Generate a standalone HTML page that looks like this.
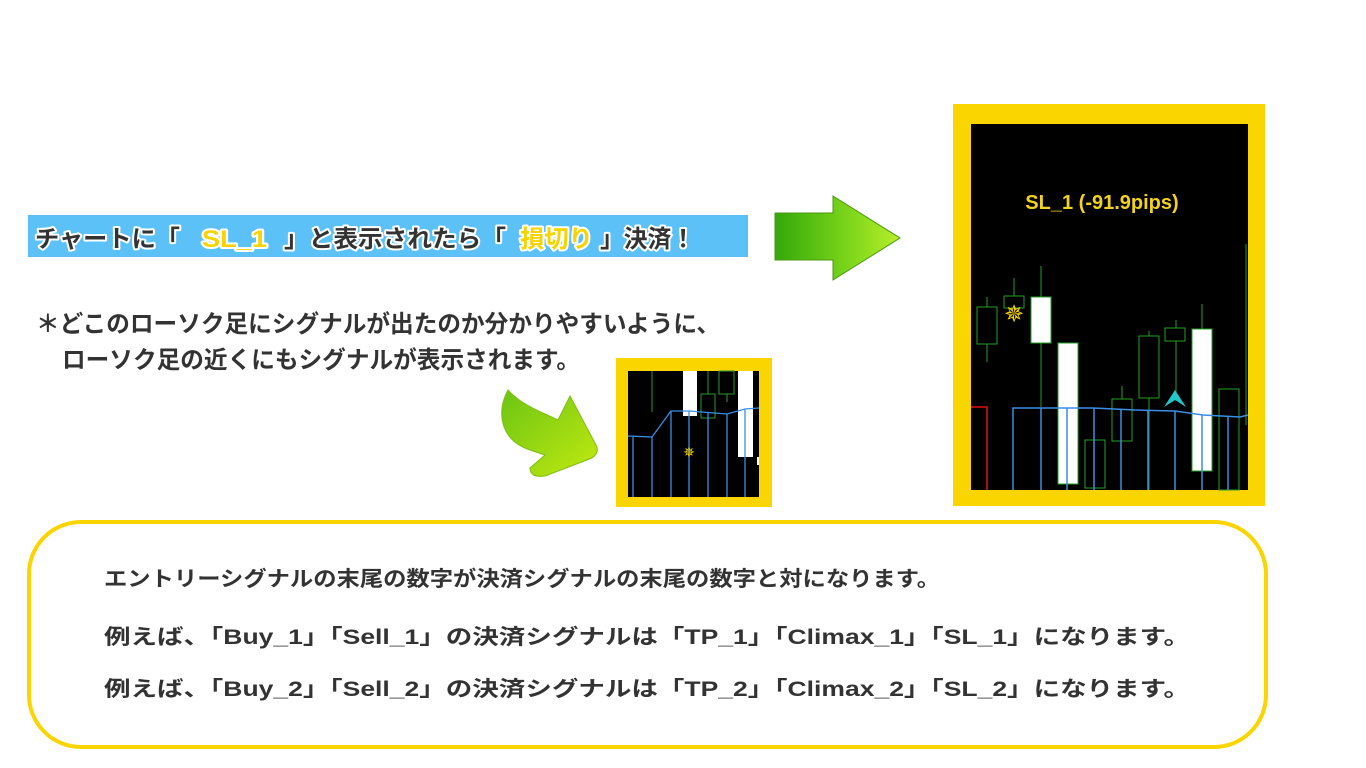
<!DOCTYPE html>
<html><head><meta charset="utf-8"><style>
html,body{margin:0;padding:0;background:#fff;width:1366px;height:768px;overflow:hidden}
svg{display:block}
.jp{font-family:"Liberation Sans","Noto Sans CJK JP",sans-serif;font-weight:bold}
</style></head><body>
<svg width="1366" height="768" viewBox="0 0 1366 768" xmlns="http://www.w3.org/2000/svg">
<defs>
<linearGradient id="ga" x1="0" y1="0" x2="1" y2="0"><stop offset="0" stop-color="#34a80a"/><stop offset="0.6" stop-color="#7ed61a"/><stop offset="1" stop-color="#b8ee2a"/></linearGradient>
<linearGradient id="gb" x1="0" y1="0" x2="1" y2="1"><stop offset="0" stop-color="#6cc414"/><stop offset="1" stop-color="#c2ea10"/></linearGradient>
</defs>
<!-- banner -->
<rect x="28" y="215" width="720" height="42" fill="#5bc1f7"/>
<g class="jp" font-size="24" stroke="#fff" stroke-width="4" paint-order="stroke" stroke-linejoin="round">
<text x="35" y="247" fill="#333" textLength="145" lengthAdjust="spacingAndGlyphs">チャートに「</text>
<text x="202" y="247" fill="#f7d400" textLength="65" lengthAdjust="spacingAndGlyphs">SL_1</text>
<text x="284" y="247" fill="#333" textLength="222" lengthAdjust="spacingAndGlyphs">」と表示されたら「</text>
<text x="520" y="247" fill="#f7d400" textLength="73" lengthAdjust="spacingAndGlyphs">損切り</text>
<text x="600" y="247" fill="#333" textLength="95" lengthAdjust="spacingAndGlyphs">」決済！</text>
</g>
<!-- right arrow -->
<polygon points="775,213 833,213 833,196 900,238 833,280 833,260 775,260" fill="url(#ga)" stroke="#4a9a10" stroke-width="1"/>
<!-- note lines -->
<text class="jp" x="36" y="332" font-size="24" fill="#333" textLength="684" lengthAdjust="spacingAndGlyphs">＊どこのローソク足にシグナルが出たのか分かりやすいように、</text>
<text class="jp" x="62" y="368" font-size="24" fill="#333" textLength="518" lengthAdjust="spacingAndGlyphs">ローソク足の近くにもシグナルが表示されます。</text>
<!-- curved arrow -->
<path d="M508,390 C496,412 500,440 530,450 L545,455 L530,468 Q530,478 545,476 L592,458 Q600,452 596,445 L570,396 L558,420 L545,414 C525,405 515,398 508,390 Z" fill="url(#gb)" stroke="#7fbf10" stroke-width="1"/>
<!-- small chart -->
<rect x="616" y="358" width="156" height="149" fill="#fbd500"/>
<rect x="628" y="371" width="131" height="126" fill="#000"/>
<g stroke="#2a9a2a" stroke-width="1" fill="none">
<line x1="652" y1="371" x2="652" y2="412"/>
<rect x="701" y="394" width="14" height="24"/><line x1="708" y1="371" x2="708" y2="394"/>
<rect x="719" y="371" width="15" height="23"/><line x1="727" y1="394" x2="727" y2="402"/>
</g>
<rect x="683" y="371" width="14" height="45" fill="#fff"/>
<rect x="738" y="371" width="15" height="86" fill="#fff"/>
<rect x="757" y="457" width="2" height="8" fill="#fff"/>
<g stroke="#3a8ee6" stroke-width="1.3" fill="none">
<polyline points="628,436 652,437 671,411 689,411 727,414 745,409 759,408"/>
<line x1="633" y1="437" x2="633" y2="497"/><line x1="652" y1="437" x2="652" y2="497"/><line x1="671" y1="411" x2="671" y2="497"/><line x1="689" y1="411" x2="689" y2="497"/><line x1="708" y1="412" x2="708" y2="497"/><line x1="727" y1="414" x2="727" y2="497"/><line x1="745" y1="409" x2="745" y2="497"/>
</g>
<text x="689" y="457" font-size="14" fill="#f7d400" text-anchor="middle" font-family="DejaVu Sans">✵</text>
<!-- big chart -->
<rect x="953" y="104" width="312" height="402" fill="#fbd500"/>
<rect x="971" y="124" width="277" height="366" fill="#000"/>
<text x="1102" y="209" font-family="Liberation Sans" font-weight="bold" font-size="20" fill="#f2d21a" text-anchor="middle">SL_1 (-91.9pips)</text>
<g stroke="#22a022" stroke-width="1" fill="none">
<line x1="987" y1="297" x2="987" y2="362"/><rect x="977" y="307" width="20" height="37" fill="#000"/>
<line x1="1014" y1="278" x2="1014" y2="296"/><rect x="1004" y="296" width="20" height="12"/>
<line x1="1041" y1="266" x2="1041" y2="407"/>
<line x1="1067" y1="343" x2="1067" y2="484"/>
<rect x="1085" y="440" width="20" height="48"/>
<line x1="1122" y1="386" x2="1122" y2="399"/><rect x="1112" y="399" width="20" height="42"/>
<line x1="1149" y1="331" x2="1149" y2="490"/><rect x="1139" y="336" width="20" height="62" fill="#000"/>
<line x1="1176" y1="320" x2="1176" y2="400"/><rect x="1165" y="328" width="20" height="13" fill="#000"/>
<line x1="1202" y1="304" x2="1202" y2="329"/>
<rect x="1219" y="389" width="20" height="101"/>
<line x1="1246" y1="244" x2="1246" y2="425"/>
</g>
<rect x="1031" y="297" width="20" height="46" fill="#fff" stroke="#22a022"/>
<rect x="1058" y="343" width="20" height="141" fill="#fff" stroke="#22a022"/>
<rect x="1192" y="329" width="20" height="142" fill="#fff" stroke="#22a022"/>
<polyline points="971,407 987,407 987,490" stroke="#e01010" stroke-width="1.5" fill="none"/>
<g stroke="#3a8ee6" stroke-width="1.5" fill="none">
<polyline points="1013,490 1013,408 1093,408 1135,410 1175,411 1203,415 1240,417 1248,415"/>
<line x1="1041" y1="408" x2="1041" y2="490"/><line x1="1067" y1="408" x2="1067" y2="490"/><line x1="1094" y1="408" x2="1094" y2="490"/><line x1="1121" y1="409" x2="1121" y2="490"/><line x1="1148" y1="410" x2="1148" y2="490"/><line x1="1175" y1="411" x2="1175" y2="490"/><line x1="1202" y1="415" x2="1202" y2="490"/><line x1="1228" y1="417" x2="1228" y2="490"/>
</g>
<polygon points="1175,390 1164,407 1175,400 1186,407" fill="#20c8c8"/>
<text x="1014" y="322" font-size="24" fill="#f7d400" text-anchor="middle" font-family="DejaVu Sans">✵</text>
<!-- bottom box -->
<rect x="29" y="522" width="1237" height="225" rx="52" ry="52" fill="#fff" stroke="#fbd500" stroke-width="4"/>
<g class="jp" font-size="21" fill="#333">
<text x="104" y="586" textLength="836" lengthAdjust="spacingAndGlyphs">エントリーシグナルの末尾の数字が決済シグナルの末尾の数字と対になります。</text>
<text x="104" y="644" textLength="1086" lengthAdjust="spacingAndGlyphs">例えば、「Buy_1」「Sell_1」の決済シグナルは「TP_1」「Climax_1」「SL_1」になります。</text>
<text x="104" y="696" textLength="1086" lengthAdjust="spacingAndGlyphs">例えば、「Buy_2」「Sell_2」の決済シグナルは「TP_2」「Climax_2」「SL_2」になります。</text>
</g>
</svg>
</body></html>
